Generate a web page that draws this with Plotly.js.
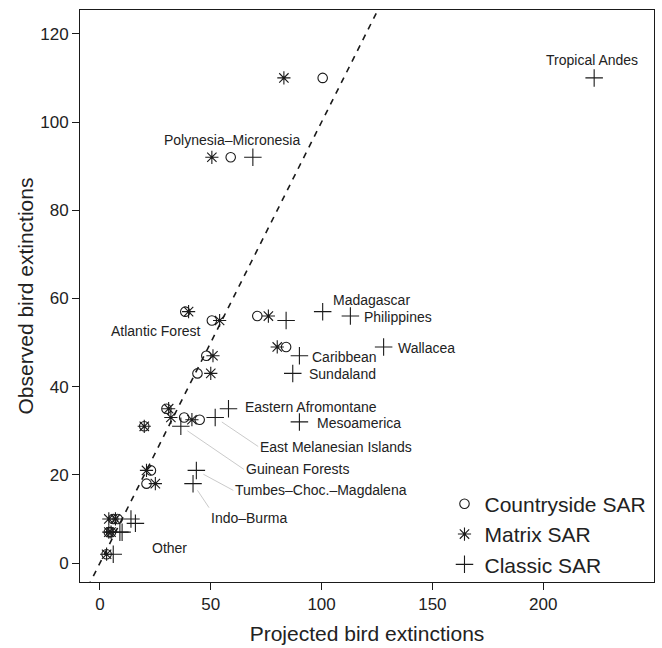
<!DOCTYPE html>
<html>
<head>
<meta charset="utf-8">
<script src="https://cdn.plot.ly/plotly-3.0.1.min.js"></script>
<style>
  html, body { margin: 0; padding: 0; background: #fff; }
  #chart { width: 662px; height: 648px; }
</style>
</head>
<body>
<div id="chart"></div>
<script>
// ---- Data ----
const countrysideX = [100.5, 59, 38.5, 50.5, 71, 84, 48, 44, 30, 38, 45, 20, 23, 21, 8, 6, 5, 4, 3];
const countrysideY = [110, 92, 57, 55, 56, 49, 47, 43, 35, 33, 32.5, 31, 21, 18, 10, 10, 7, 7, 2];

const matrixX = [83, 50.5, 40, 54, 76, 80, 51, 50, 31, 32, 41.5, 20, 21, 25, 4, 7, 4, 5, 3];
const matrixY = [110, 92, 57, 55, 56, 49, 47, 43, 35, 33, 32.5, 31, 21, 18, 10, 10, 7, 7, 2];

const classicX = [223, 69, 100.5, 113, 84, 128, 90, 87, 58, 52, 90, 36.5, 43.5, 42, 14, 16, 9, 10, 6];
const classicY = [110, 92, 57, 56, 55, 49, 47, 43, 35, 33, 32, 31, 21, 18, 10, 9, 7, 7, 2];

const oneToOneX = [-20, 140];
const oneToOneY = [-20, 140];

const xTicks = [0, 50, 100, 150, 200];
const yTicks = [0, 20, 40, 60, 80, 100, 120];

const seriesNames = ["Countryside SAR", "Matrix SAR", "Classic SAR"];

// Region labels attached to Classic SAR points (index into classic arrays)
const regionLabels = ["Tropical Andes", "Polynesia–Micronesia", "Madagascar", "Philippines",
  "Wallacea", "Caribbean", "Sundaland", "Eastern Afromontane", "Mesoamerica",
  "East Melanesian Islands", "Guinean Forests", "Tumbes–Choc.–Magdalena", "Indo–Burma"];
const atlanticLabel = "Atlantic Forest";
const otherLabel = "Other";

// ---- Styling ----
const ink = "#1a1a1a";
const fontFam = "Liberation Sans, Arial, Helvetica, sans-serif";
const lblFont = { family: fontFam, size: 14, color: "#222" };

const traces = [
  { x: oneToOneX, y: oneToOneY, mode: "lines", showlegend: false, hoverinfo: "skip",
    line: { color: ink, width: 1.6, dash: "6px,6px" } },
  { x: countrysideX, y: countrysideY, mode: "markers", name: seriesNames[0],
    marker: { symbol: "circle-open", size: 9.5, color: ink, line: { width: 1.1, color: ink } } },
  { x: matrixX, y: matrixY, mode: "markers", name: seriesNames[1],
    marker: { symbol: "asterisk-open", size: 11, color: ink, line: { width: 1.1, color: ink } } },
  { x: classicX, y: classicY, mode: "markers", name: seriesNames[2],
    marker: { symbol: "cross-thin-open", size: 12.5, color: ink, line: { width: 1.1, color: ink } } }
];

function plain(idx, text, xanchor, xshift, yshift) {
  return { x: classicX[idx], y: classicY[idx], text: text, showarrow: false,
    xanchor: xanchor, yanchor: "middle", xshift: xshift, yshift: yshift, font: lblFont };
}
function leader(idx, text, ax, ay, yanchor) {
  return { x: classicX[idx], y: classicY[idx], text: text, showarrow: true,
    arrowhead: 0, arrowwidth: 0.8, arrowcolor: "#bdbdbd", standoff: 8,
    ax: ax, ay: ay, xanchor: "left", yanchor: yanchor || "middle", font: lblFont };
}

const annotations = [
  plain(0, regionLabels[0], "center", -2, 18),
  plain(1, regionLabels[1], "center", -21, 17),
  plain(2, regionLabels[2], "left", 8, 12),
  plain(3, regionLabels[3], "left", 12, -1),
  plain(5, regionLabels[4], "left", 12, -1),
  plain(6, regionLabels[5], "left", 11, -1),
  plain(7, regionLabels[6], "left", 14, -1),
  plain(8, regionLabels[7], "left", 15, 2),
  plain(10, regionLabels[8], "left", 16, -1),
  leader(9, regionLabels[9], 43, 29),
  leader(11, regionLabels[10], 63, 43),
  leader(12, regionLabels[11], 37, 20),
  leader(13, regionLabels[12], 16, 24, "top"),
  { x: countrysideX[2], y: countrysideY[2], text: atlanticLabel, showarrow: false,
    xanchor: "right", yanchor: "middle", xshift: 18, yshift: -19, font: lblFont },
  { x: 31.5, y: 3.3, text: otherLabel, showarrow: false, xanchor: "center", yanchor: "middle", font: lblFont }
];

const axisCommon = {
  showgrid: false, zeroline: false, showline: true, mirror: true,
  linecolor: ink, linewidth: 1, ticks: "outside", ticklen: 7, tickwidth: 1, tickcolor: ink,
  tickfont: { family: fontFam, size: 17, color: "#222" }
};

const layout = {
  width: 662, height: 648,
  margin: { l: 80, r: 8, t: 10, b: 66 },
  paper_bgcolor: "#fff", plot_bgcolor: "#fff",
  showlegend: true,
  legend: { x: 0.635, xanchor: "left", y: 0.172, yanchor: "top",
    font: { family: fontFam, size: 21, color: "#222" }, bgcolor: "rgba(0,0,0,0)",
    tracegroupgap: 0, itemsizing: "trace" },
  xaxis: Object.assign({}, axisCommon, {
    range: [-9, 250], tickvals: xTicks, ticktext: xTicks.map(String),
    title: { text: "Projected bird extinctions", font: { family: fontFam, size: 21, color: "#222" }, standoff: 12 }
  }),
  yaxis: Object.assign({}, axisCommon, {
    range: [-4.3, 125.4], tickvals: yTicks, ticktext: yTicks.map(String),
    title: { text: "Observed bird extinctions", font: { family: fontFam, size: 21, color: "#222" }, standoff: 0 }
  }),
  annotations: annotations
};

Plotly.newPlot("chart", traces, layout, { displayModeBar: false, staticPlot: true });
</script>
</body>
</html>
